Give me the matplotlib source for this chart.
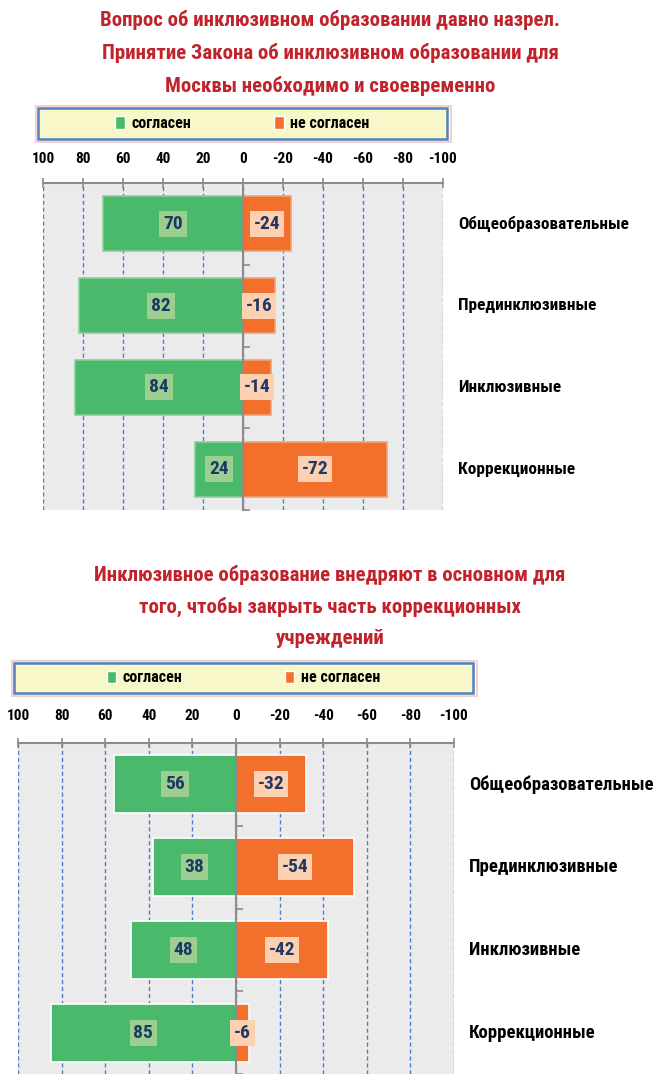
import matplotlib
matplotlib.use('Agg')
import matplotlib.pyplot as plt
import matplotlib.transforms as mtransforms
from matplotlib import font_manager
from matplotlib.patches import Rectangle, Patch

# --- Datos ---
categorias = ['Общеобразовательные', 'Прединклюзивные', 'Инклюзивные', 'Коррекционные']

titulo_1 = ['Вопрос об инклюзивном образовании давно назрел.',
            'Принятие Закона об инклюзивном образовании для',
            'Москвы необходимо и своевременно']
согласен_1 = [70, 82, 84, 24]
не_согласен_1 = [-24, -16, -14, -72]

titulo_2 = ['Инклюзивное образование внедряют в основном для',
            'того, чтобы закрыть часть коррекционных',
            'учреждений']
согласен_2 = [56, 38, 48, 85]
не_согласен_2 = [-32, -54, -42, -6]

ticks = [100, 80, 60, 40, 20, 0, -20, -40, -60, -80, -100]
tick_labels = ['100', '80', '60', '40', '20', '0', '-20', '-40', '-60', '-80', '-100']
leyenda = ['согласен', 'не согласен']

# --- Estilo ---
W, H = 657, 1074
VERDE = '#4bb96b'
NARANJA = '#f36f2c'
VERDE_CLARO = '#9bcf8f'
NARANJA_CLARO = '#fdd0b2'
AZUL_TXT = '#1f3864'
ROJO = '#c0232c'
GRIS = '#8c8c8c'

nombres = {f.name for f in font_manager.fontManager.ttflist}
FUENTE = next((n for n in ['Roboto Condensed', 'Liberation Sans Narrow',
                            'Open Sans Condensed', 'DejaVu Sans Condensed']
               if n in nombres), 'Liberation Sans')
plt.rcParams['font.family'] = [FUENTE, 'DejaVu Sans']
plt.rcParams['font.weight'] = 'bold'


def caja(x0, y0, x1, y1):
    """Caja en píxeles (origen arriba-izquierda) -> fracción de figura."""
    return [x0 / W, 1 - y1 / H, (x1 - x0) / W, (y1 - y0) / H]


def panel(fig, titulo, title_y, leg_box, leg_cols, ax_box, agree, disagree,
          alto_barra, bordes, cat_x, cat_fs, tick_pad):
    # Título (una línea por fig.text)
    for linea, y in zip(titulo, title_y):
        fig.text(330 / W, 1 - y / H, linea, ha='center', va='center',
                 fontsize=15, color=ROJO, fontweight='bold')

    # Marco de la leyenda (sombra rosada + caja amarilla)
    x0, y0, x1, y1 = leg_box
    r = caja(x0 - 2, y0 - 2, x1 + 4, y1 + 3)
    fig.add_artist(Rectangle((r[0], r[1]), r[2], r[3],
                             transform=fig.transFigure, fc='none',
                             ec='#f4d0d0', lw=1.5, zorder=0))
    r = caja(x0, y0, x1, y1)
    fig.add_artist(Rectangle((r[0], r[1]), r[2], r[3],
                             transform=fig.transFigure, fc='#f8f7c9',
                             ec='#4f81bd', lw=1.8, zorder=1))

    ax = fig.add_axes(caja(*ax_box))
    y = list(range(len(categorias)))
    ax.barh(y, agree, height=alto_barra, color=VERDE, edgecolor=bordes[0],
            lw=1.2, zorder=3)
    ax.barh(y, disagree, height=alto_barra, color=NARANJA, edgecolor=bordes[1],
            lw=1.2, zorder=3)

    for i, (a, d) in enumerate(zip(agree, disagree)):
        ax.text(a / 2, i, str(a), ha='center', va='center', fontsize=14,
                color=AZUL_TXT, fontweight='bold', zorder=5,
                bbox=dict(boxstyle='square,pad=0.2', fc=VERDE_CLARO, ec='none'))
        ax.text(d / 2, i, str(d), ha='center', va='center', fontsize=14,
                color=AZUL_TXT, fontweight='bold', zorder=5,
                bbox=dict(boxstyle='square,pad=0.2', fc=NARANJA_CLARO, ec='none'))

    trans = mtransforms.blended_transform_factory(ax.transAxes, ax.transData)
    for i, c in enumerate(categorias):
        ax.text(cat_x, i, c, transform=trans, ha='left', va='center',
                fontsize=cat_fs, color='black', fontweight='bold')

    ax.set_xlim(100, -100)
    ax.set_ylim(len(categorias) - 0.5, -0.5)
    ax.set_facecolor('#ebebeb')

    ax.xaxis.tick_top()
    ax.set_xticks(ticks)
    ax.set_xticklabels(tick_labels, fontsize=11, fontweight='bold')
    ax.tick_params(axis='x', direction='inout', length=7, color=GRIS,
                   width=1.2, pad=tick_pad)
    ax.xaxis.grid(True, linestyle=(0, (3, 2)), color='#4a7fd0', lw=1)
    ax.set_axisbelow(True)

    # Eje vertical en cero con marcas entre categorías
    ax.spines['left'].set_position(('data', 0))
    ax.spines['left'].set_color(GRIS)
    ax.spines['left'].set_linewidth(1.5)
    ax.spines['left'].set_zorder(4)
    ax.set_yticks([i - 0.5 for i in range(len(categorias) + 1)])
    ax.set_yticklabels([])
    ax.tick_params(axis='y', direction='in', length=5, color=GRIS, width=1.2)
    ax.spines['top'].set_color(GRIS)
    ax.spines['top'].set_linewidth(1.5)
    ax.spines['right'].set_visible(False)
    ax.spines['bottom'].set_visible(False)

    handles = [Patch(fc=VERDE, ec='white'), Patch(fc=NARANJA, ec='white')]
    lx = (x0 + x1) / 2 / W
    ly = 1 - (y0 + y1) / 2 / H
    leg = fig.legend(handles, leyenda, loc='center', bbox_to_anchor=(lx, ly),
                     ncol=2, frameon=False, handlelength=0.6,
                     handleheight=0.8, handletextpad=0.4,
                     columnspacing=leg_cols,
                     prop=dict(weight='bold', size=11.5))
    leg.set_zorder(2)
    return ax


fig = plt.figure(figsize=(W / 100, H / 100), dpi=100)

panel(fig, titulo_1, [20, 53, 86], (38, 108, 447, 139), 5.2,
      (43, 183, 443, 510), согласен_1, не_согласен_1, 0.67,
      ('#86d198', '#f7a074'), 1.0375, 12.4, 9)
panel(fig, titulo_2, [575, 607, 638], (14, 663, 473, 693), 6.4,
      (18, 743, 454, 1074), согласен_2, не_согласен_2, 0.70,
      ('white', 'white'), 1.034, 13.4, 11)

fig.savefig('out.png', dpi=100)
